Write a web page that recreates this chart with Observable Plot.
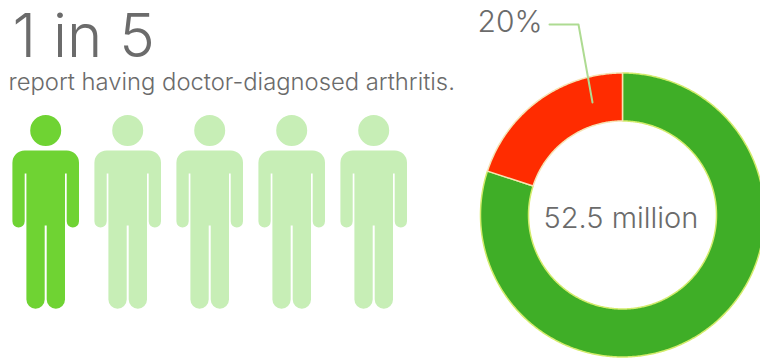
<!DOCTYPE html>
<html>
<head>
<meta charset="utf-8">
<script src="https://cdn.jsdelivr.net/npm/d3@7"></script>
<script src="https://cdn.jsdelivr.net/npm/@observablehq/plot@0.6"></script>
<style>
  html, body { margin: 0; padding: 0; background: #fff; overflow: hidden; }
  svg { display: block; }
</style>
</head>
<body>
<div id="chart"></div>
<script>
// Figures shown on the graphic
const sliceNames = ["no diagnosis", "diagnosed"];
const sliceShares = [80, 20];
const sliceFills = ["#3fae27", "#ff2c00"];
const sliceEdges = ["#d3ec6c", "#f6e3b4"];
const people = [1, 0, 0, 0, 0]; // 1 = highlighted figure
const headline = "1 in 5";
const subhead = "report having doctor-diagnosed arthritis.";
const shareLabel = "20%";
const totalLabel = "52.5 million";

const ink = "#6b6b6b";
const face = "Inter";
const centre = {x: 622.5, y: 215};
const outerR = 142;
const innerR = 94;

// Ring slices as areas between the outer and inner arcs
const arcs = d3.pie().sort(null)(sliceShares);
function ringPoints(arc) {
  const steps = Math.ceil((arc.endAngle - arc.startAngle) / 0.01);
  return d3.range(steps + 1).map((i) => {
    const a = arc.startAngle + (arc.endAngle - arc.startAngle) * i / steps;
    return {
      x1: centre.x + outerR * Math.sin(a),
      y1: centre.y - outerR * Math.cos(a),
      x2: centre.x + innerR * Math.sin(a),
      y2: centre.y - innerR * Math.cos(a)
    };
  });
}
const sliceMarks = arcs.map((arc, i) =>
  Plot.area(ringPoints(arc), {
    x1: "x1", y1: "y1", x2: "x2", y2: "y2",
    fill: sliceFills[i],
    stroke: sliceEdges[i],
    strokeWidth: 1.5,
    title: () => sliceNames[i]
  })
);

// Standing figure, drawn around its own middle
const person = {
  draw(c) {
    c.moveTo(15.5, -81);
    c.arc(0, -81, 15.5, 0, 2 * Math.PI);
    c.closePath();
    c.moveTo(-21, -61);
    c.lineTo(21, -61);
    c.arcTo(33.3, -61, 33.3, -49, 12.3);
    c.lineTo(33.3, 9.8);
    c.arc(27.15, 9.8, 6.15, 0, Math.PI);
    c.lineTo(21, -38);
    c.lineTo(19.3, -38);
    c.lineTo(19.3, 88);
    c.arc(10.15, 88, 9.15, 0, Math.PI);
    c.lineTo(1, 14);
    c.lineTo(-1, 14);
    c.lineTo(-1, 88);
    c.arc(-10.15, 88, 9.15, 0, Math.PI);
    c.lineTo(-19.3, -38);
    c.lineTo(-21, -38);
    c.lineTo(-21, 9.8);
    c.arc(-27.15, 9.8, 6.15, 0, Math.PI);
    c.lineTo(-33.3, -49);
    c.arcTo(-33.3, -61, -21, -61, 12.3);
    c.closePath();
  }
};

const leader = [[549, 24], [578, 24], [592, 102]];

function label(text, x, y, fontSize) {
  return Plot.text([text], {
    x: () => x, y: () => y, text: (d) => d,
    textAnchor: "start", lineAnchor: "bottom",
    fontFamily: face, fontWeight: 300, fontSize, fill: ink
  });
}

const chart = Plot.plot({
  width: 760,
  height: 358,
  margin: 0,
  axis: null,
  x: {domain: [0, 760], range: [0, 760]},
  y: {domain: [0, 358], range: [0, 358]},
  marks: [
    ...sliceMarks,
    Plot.line(leader, {stroke: "#aedb92", strokeWidth: 2}),
    Plot.dot(people, {
      x: (d, i) => 45.2 + 82 * i,
      y: () => 211,
      symbol: person,
      r: 10,
      fill: (d) => (d ? "#6fd333" : "#c7eeb6")
    }),
    label(headline, 12, 56, 60),
    label(subhead, 8, 89, 23.8),
    label(shareLabel, 477, 31, 30),
    label(totalLabel, 543, 227, 29)
  ]
});
document.getElementById("chart").append(chart);
</script>
</body>
</html>
